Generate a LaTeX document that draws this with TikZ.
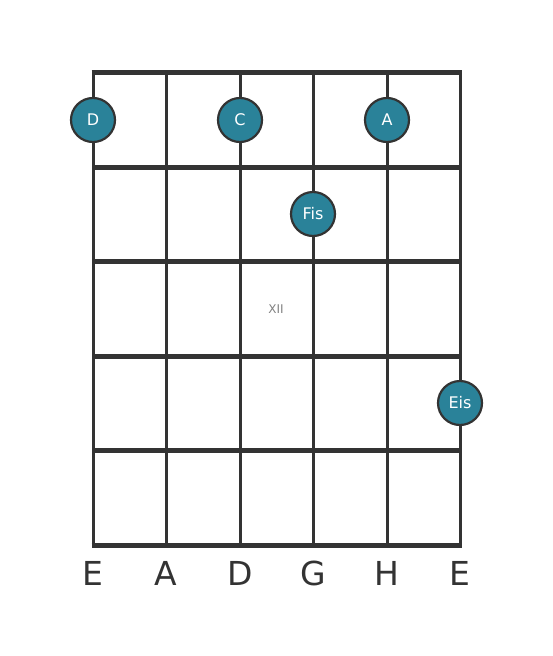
\documentclass[tikz,border=0pt]{standalone}
\usepackage{fontspec}
\setmainfont{DejaVu Sans}
\definecolor{gridline}{RGB}{51,51,51}
\definecolor{notefill}{RGB}{42,130,153}
\definecolor{markgray}{RGB}{130,130,130}

\begin{document}
\begin{tikzpicture}[x=1pt, y=-1pt]
        \tikzstyle{note} = [circle, draw=gridline, line width=2.2pt, fill=notefill, text=white, minimum size=44pt, inner sep=0pt, font=\fontsize{16}{16}\selectfont];
        \tikzstyle{stringlabel} = [text=gridline, font=\fontsize{33}{33}\selectfont];
        \tikzstyle{fret} = [draw=gridline, line width=5pt];
        \tikzstyle{string} = [draw=gridline, line width=3pt];

        \useasboundingbox (0,0) rectangle (553,656);

        % strings
        \draw[string] (93,72) -- (93,545);
        \draw[string] (166,72) -- (166,545);
        \draw[string] (240,72) -- (240,545);
        \draw[string] (313,72) -- (313,545);
        \draw[string] (387,72) -- (387,545);
        \draw[string] (460,72) -- (460,545);

        % frets
        \draw[fret] (91.5,72) -- (461.5,72);
        \draw[fret] (93,167) -- (460,167);
        \draw[fret] (93,261) -- (460,261);
        \draw[fret] (93,356) -- (460,356);
        \draw[fret] (93,450) -- (460,450);
        \draw[fret] (91.5,545) -- (461.5,545);

        \node(xii) [text=markgray, font=\fontsize{12}{12}\selectfont] at (276,309) {XII};

        % notes
        \node(noteD) [note] at (93,120) {D};
        \node(noteC) [note] at (240,120) {C};
        \node(noteA) [note] at (387,120) {A};
        \node(noteFis) [note] at (313,214) {Fis};
        \node(noteEis) [note] at (460,403) {Eis};

        % string names
        \node(strE) [stringlabel] at (93,573) {E};
        \node(strA) [stringlabel] at (166,573) {A};
        \node(strD) [stringlabel] at (240,573) {D};
        \node(strG) [stringlabel] at (313,573) {G};
        \node(strH) [stringlabel] at (387,573) {H};
        \node(stre) [stringlabel] at (460,573) {E};

    \end{tikzpicture}
\end{document}
